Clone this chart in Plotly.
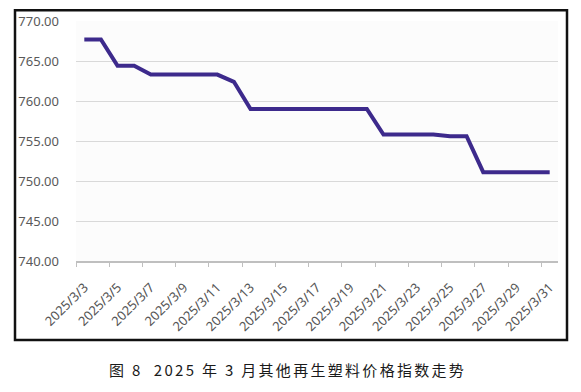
import plotly.graph_objects as go

dates = [f"2025/3/{d}" for d in range(3, 32)]
values = [767.7, 767.7, 764.4, 764.4, 763.3, 763.3, 763.3, 763.3, 763.3, 762.4,
          759.0, 759.0, 759.0, 759.0, 759.0, 759.0, 759.0, 759.0,
          755.8, 755.8, 755.8, 755.8, 755.6, 755.6,
          751.1, 751.1, 751.1, 751.1, 751.1]
y_ticks = [740, 745, 750, 755, 760, 765, 770]
caption = "图 8  2025 年 3 月其他再生塑料价格指数走势"

W, H = 581, 392
L, R, T, B = 76, 558, 20.7, 261
pw, ph = R - L, B - T

def px(x):
    return (x - L) / pw

def py(y):
    return (B - y) / ph

fig = go.Figure()
fig.add_trace(go.Scatter(
    x=dates, y=values, mode="lines",
    line=dict(color="#3d2a8c", width=4),
    hoverinfo="skip",
))

fig.update_layout(
    width=W, height=H,
    margin=dict(l=L, r=W - R, t=T, b=H - B, pad=0),
    paper_bgcolor="white",
    plot_bgcolor="#fcfcfc",
    showlegend=False,
    font=dict(family="Noto Sans, DejaVu Sans, sans-serif", color="#595959"),
    xaxis=dict(
        type="category",
        range=[-0.5, 28.5],
        dtick=2,
        tickson="boundaries",
        ticks="outside",
        ticklen=4,
        tickcolor="#bfbfbf",
        showline=True,
        linecolor="#bfbfbf",
        linewidth=1.5,
        showgrid=False,
        tickangle=-45,
        ticklabelstandoff=12,
        tickfont=dict(size=13, color="#555555"),
        fixedrange=True,
    ),
    yaxis=dict(
        range=[740, 770],
        tickvals=y_ticks,
        ticktext=[f"{v:.2f}" for v in y_ticks],
        showgrid=True,
        gridcolor="#d9d9d9",
        gridwidth=1.2,
        zeroline=False,
        showline=False,
        ticks="",
        ticklabelstandoff=16,
        tickfont=dict(size=13, color="#595959"),
        fixedrange=True,
    ),
)

fig.add_shape(
    type="rect", xref="paper", yref="paper",
    x0=px(15), x1=px(567), y0=py(340), y1=py(10),
    line=dict(color="#111111", width=2.5),
    fillcolor="rgba(0,0,0,0)", layer="above",
)

fig.add_annotation(
    text=caption, xref="paper", yref="paper",
    x=px(287), y=py(370), xanchor="center", yanchor="middle",
    showarrow=False,
    font=dict(family="Noto Sans CJK SC, sans-serif", size=15, color="#1a1a1a"),
)

post = """
document.body.style.margin='0';
document.querySelectorAll('.annotation-text').forEach(function(e){e.style.letterSpacing='2.3px';});
"""

fig.write_html("out.html", config={"displayModeBar": False}, post_script=post)
